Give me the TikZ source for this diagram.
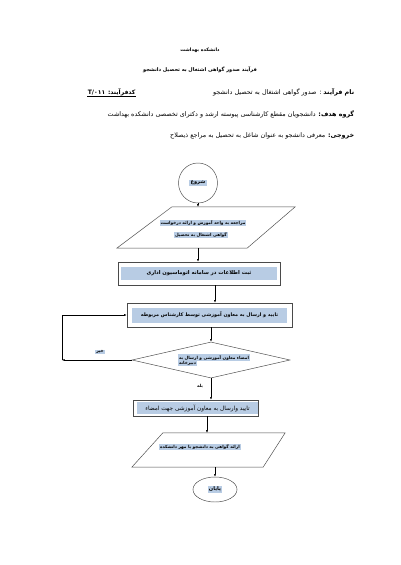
\documentclass[tikz,border=0pt]{standalone}
\usepackage{fontspec}
\usepackage{tikz}
\usetikzlibrary{shapes.geometric,arrows.meta,calc}
\TeXXeTstate=1
\newfontfamily\farsi[Script=Arabic]{DejaVu Sans}
\newcommand{\fatxt}[1]{\beginR #1\endR}
\definecolor{hlblue}{HTML}{B8CCE4}
\definecolor{boxline}{HTML}{4A4A4A}

\begin{document}
\begin{tikzpicture}[x=1.4875pt,y=-1.4875pt,
    arr/.style={-{Latex[length=4pt,width=3pt]},line width=0.6pt,black},
    shp/.style={draw=boxline,line width=0.7pt},
    hl/.style={fill=hlblue,inner sep=1.2pt,font=\farsi\bfseries\fontsize{6.3}{7}\selectfont},
    hlbig/.style={hl,font=\farsi\bfseries\fontsize{7.8}{9}\selectfont},
    term/.style={hl,inner sep=2pt,font=\farsi\bfseries\fontsize{7.6}{9}\selectfont},
    head/.style={font=\farsi\fontsize{9.5}{11}\selectfont,inner sep=1pt}]
        \useasboundingbox[fill=white] (0,0) rectangle (400,565);

        % header
        \node[head,font=\farsi\bfseries\fontsize{7}{8}\selectfont] (school) at (200,50) {\fatxt{دانشکده بهداشت}};
        \node[head,font=\farsi\bfseries\fontsize{7.5}{8}\selectfont] (title) at (200,70) {\fatxt{فرآیند صدور گواهی اشتغال به تحصیل دانشجو}};
        \node[head,anchor=east] (pname) at (355,92) {\fatxt{\textbf{نام فرآیند} : صدور گواهی اشتغال به تحصیل دانشجو}};
        \node[head,anchor=west,font=\farsi\bfseries\fontsize{9}{11}\selectfont] (pcode) at (87,92) {\fatxt{کدفرآیند: \beginL T/۰۱۱\endL}};
        \draw[line width=0.6pt] (pcode.south west) -- (pcode.south east);
        \node[head,anchor=east] (target) at (355,114) {\fatxt{\textbf{گروه هدف:} دانشجویان مقطع کارشناسی پیوسته ارشد و دکترای تخصصی دانشکده بهداشت}};
        \node[head,anchor=east] (output) at (355,136) {\fatxt{\textbf{خروجی:} معرفی دانشجو به عنوان شاغل به تحصیل به مراجع ذیصلاح}};

        % start
        \node[shp,ellipse,minimum width=58pt,minimum height=59.5pt] (start) at (198,183) {};
        \node[term] (startt) at (start) {\fatxt{شروع}};

        % request (input)
        \node[minimum width=264.8pt,minimum height=61pt,inner sep=0pt] (req) at (206,227.5) {};
        \draw[shp] (req.south west) -- ($(req.south east)+(-48,0)$) -- (req.north east) -- ($(req.north west)+(55,0)$) -- cycle;
        \node[hl] (req1) at (203,223) {\fatxt{مراجعه به واحد آموزش و ارائه درخواست}};
        \node[hl] (req2) at (201,235) {\fatxt{گواهی اشتغال به تحصیل}};

        % registration
        \node[shp,line width=0.9pt,minimum width=241pt,minimum height=34.2pt] (reg) at (199,273.5) {};
        \node[hlbig,minimum width=230.6pt,minimum height=20.8pt] (regt) at (reg) {\fatxt{ثبت اطلاعات در سامانه اتوماسیون اداری}};

        % confirmation
        \node[shp,line width=0.9pt,minimum width=245.4pt,minimum height=35.7pt] (conf) at (209.5,315) {};
        \node[hlbig,minimum width=232pt,minimum height=22.3pt,font=\farsi\bfseries\fontsize{7.2}{9}\selectfont] (conft) at (conf) {\fatxt{تایید و ارسال به معاون آموزشی توسط کارشناس مربوطه}};

        % decision
        \node[shp,diamond,minimum width=235pt,minimum height=53.6pt,inner sep=0pt] (sign) at (211,360) {};
        \node[hl] (sign1) at (214,357.5) {\fatxt{امضاء معاون آموزشی و ارسال به}};
        \node[hl,anchor=north west,inner ysep=0.6pt] (sign2) at (sign1.south west) {\fatxt{دبیرخانه}};
        \node[hl] (no) at (100,352) {\fatxt{خیر}};
        \node[hl,fill=none] (yes) at (200,386) {\fatxt{بله}};

        % forward
        \node[shp,minimum width=186pt,minimum height=23.8pt] (fwd) at (195.5,408) {};
        \node[hl,minimum width=180pt,minimum height=17.8pt,font=\farsi\fontsize{8.6}{9}\selectfont] (fwdt) at (197.5,408) {\fatxt{تایید وارسال به معاون آموزشی جهت امضاء}};

        % certificate (output)
        \node[minimum width=227.6pt,minimum height=50.6pt,inner sep=0pt] (out) at (208.5,450) {};
        \draw[shp] (out.south west) -- ($(out.south east)+(-22,0)$) -- (out.north east) -- ($(out.north west)+(31,0)$) -- cycle;
        \node[hl] (outt) at (200,447) {\fatxt{ارائه گواهی به دانشجو با مهر دانشکده}};

        % end
        \node[shp,ellipse,minimum width=65.5pt,minimum height=37.2pt] (end) at (215,489.5) {};
        \node[term] (endt) at (end) {\fatxt{پایان}};

        % connectors
        \coordinate (k1) at (215,0);
        \coordinate (k2) at (207,0);
        \coordinate (lp) at (62,360);
        \draw[arr] (start.south) -- (start.south |- req.north);
        \draw[arr] (req.south -| start) -- (reg.north -| start);
        \draw[arr] (reg.south -| k1) -- (conf.north -| k1);
        \draw[arr] (conf.south -| sign) -- (sign.north);
        \draw[arr] (sign.west) -- (lp);
        \draw[arr] (lp) |- (conf.west);
        \draw[arr] (sign.south) -- (sign.south |- fwd.north);
        \draw[arr] (fwd.south -| k2) -- (out.north -| k2);
        \draw[arr] (out.south -| end) -- (end.north);
    \end{tikzpicture}
\end{document}
